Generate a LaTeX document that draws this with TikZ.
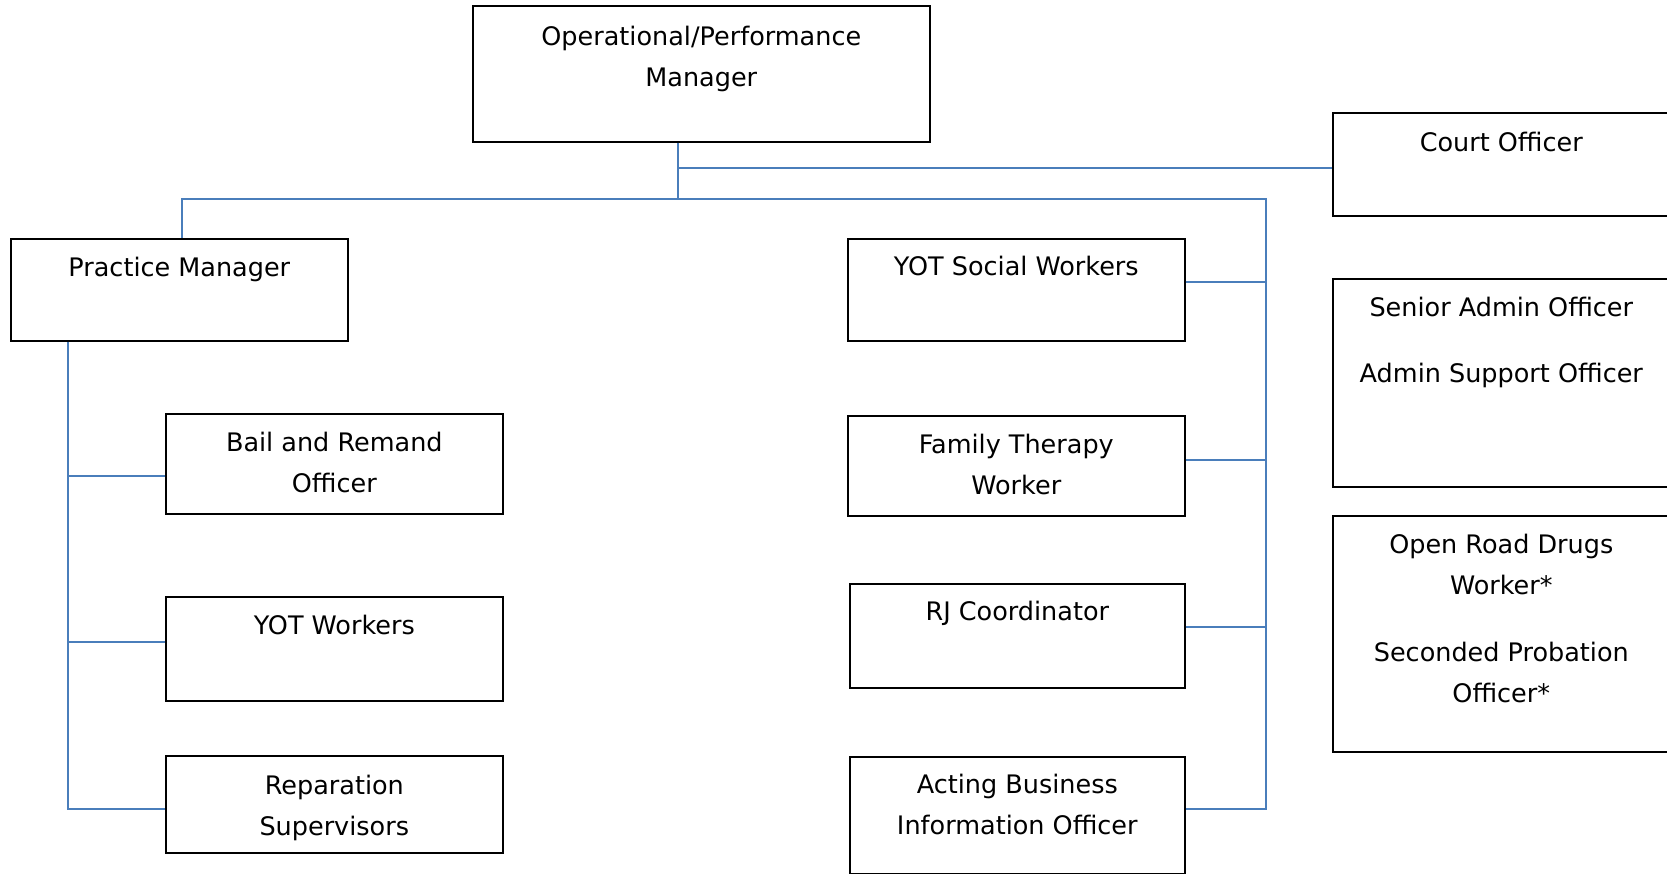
\documentclass[tikz,border=0pt]{standalone}
\usepackage{fontspec}
\setmainfont{DejaVu Sans}
\definecolor{linkblue}{RGB}{74,126,187}

\begin{document}
\begin{tikzpicture}[
        x=1pt, y=-1pt,
        every node/.style={font=\fontsize{25.5}{41}\selectfont}, % Tahoma-like size
        post/.style={draw, line width=1.6pt, minimum width=337pt, anchor=north west, inner sep=0},
        title/.style={anchor=north, align=center, inner sep=0},
        trunk/.style={draw=linkblue, line width=2.4pt},
        link/.style={draw=linkblue, line width=1.8pt}
    ]
    \clip (0,0) rectangle (1667,874);

    % boxes
    \node[post, minimum width=457pt, minimum height=136pt] (opm) at (472,5) {};
    \node[post, minimum height=103pt] (court) at (1332,112) {};
    \node[post, minimum height=208pt] (admin) at (1332,278) {};
    \node[post, minimum height=236pt] (drugs) at (1332,515) {};
    \node[post, minimum height=102pt] (pm) at (10,238) {};
    \node[post, minimum height=100pt] (bail) at (165,413) {};
    \node[post, minimum height=104pt] (yotw) at (165,596) {};
    \node[post, minimum height=97pt] (rep) at (165,755) {};
    \node[post, minimum height=102pt] (yotsw) at (847,238) {};
    \node[post, minimum height=100pt] (ftw) at (847,415) {};
    \node[post, minimum width=335pt, minimum height=104pt] (rj) at (849,583) {};
    \node[post, minimum width=335pt, minimum height=117pt] (abio) at (849,756) {};

    % titles (top-aligned in their boxes)
    \node[title] (opm-t) at ([yshift=-20.5pt]opm.north) {Operational/Performance\\Manager};
    \node[title] (court-t) at ([yshift=-20pt]court.north) {Court Officer};
    \node[title] (admin-t) at ([yshift=-19pt]admin.north) {Senior Admin Officer\\[25pt]Admin Support Officer};
    \node[title] (drugs-t) at ([yshift=-19pt]drugs.north) {Open Road Drugs\\Worker*\\[26pt]Seconded Probation\\Officer*};
    \node[title] (pm-t) at ([yshift=-19pt]pm.north) {Practice Manager};
    \node[title] (bail-t) at ([yshift=-19pt]bail.north) {Bail and Remand\\Officer};
    \node[title] (yotw-t) at ([yshift=-19pt]yotw.north) {YOT Workers};
    \node[title] (rep-t) at ([yshift=-20pt]rep.north) {Reparation\\Supervisors};
    \node[title] (yotsw-t) at ([yshift=-18pt]yotsw.north) {YOT Social Workers};
    \node[title] (ftw-t) at ([yshift=-19pt]ftw.north) {Family Therapy\\Worker};
    \node[title] (rj-t) at ([yshift=-18pt]rj.north) {RJ Coordinator};
    \node[title] (abio-t) at ([yshift=-18pt]abio.north) {Acting Business\\Information Officer};

    % connectors
    \coordinate (hub) at (678,199);
    \coordinate (cj) at (678,168);
    \coordinate (busL) at (182,199);
    \coordinate (busR) at (1266,199);
    \coordinate (lspine) at (68,809);
    \coordinate (rspine) at (1266,809);

    \draw[trunk] (opm.south -| hub) -- (hub);
    \draw[link, line width=1.4pt] (cj) -- (cj -| court.west);
    \draw[trunk] (busL |- pm.north) -- (busL) -- (busR) -- (rspine) -- (rspine -| abio.east);
    \draw[trunk] (pm.south -| lspine) -- (lspine) -- (lspine -| rep.west);
    \draw[link] ([yshift=-12pt]bail.west) -- ([yshift=-12pt]bail.west -| lspine);
    \draw[link] ([yshift=7pt]yotw.west) -- ([yshift=7pt]yotw.west -| lspine);
    \draw[link] ([yshift=8pt]yotsw.east) -- ([yshift=8pt]yotsw.east -| rspine);
    \draw[link] ([yshift=6pt]ftw.east) -- ([yshift=6pt]ftw.east -| rspine);
    \draw[link] ([yshift=9pt]rj.east) -- ([yshift=9pt]rj.east -| rspine);
\end{tikzpicture}
\end{document}
